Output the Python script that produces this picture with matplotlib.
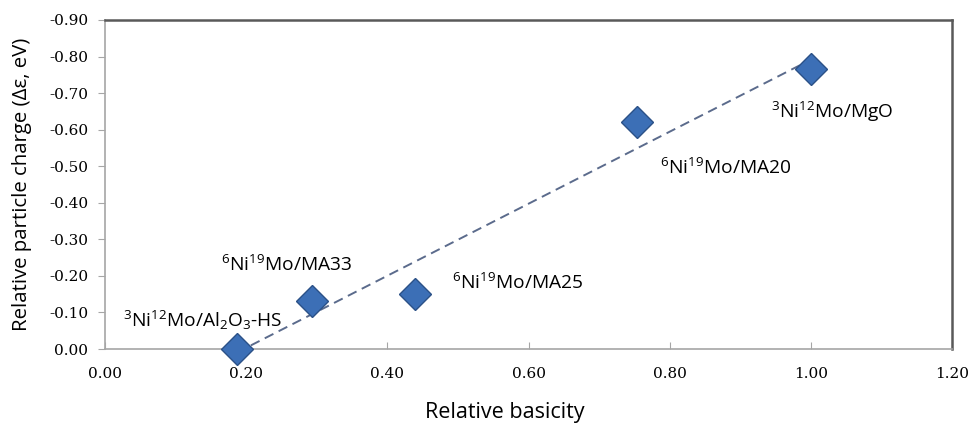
import numpy as np
import matplotlib
matplotlib.use('Agg')
import matplotlib.pyplot as plt
from matplotlib.ticker import FormatStrFormatter, MultipleLocator

plt.rcParams['mathtext.fontset'] = 'custom'
plt.rcParams['mathtext.rm'] = 'Open Sans'
plt.rcParams['mathtext.it'] = 'Open Sans:italic'
plt.rcParams['axes.unicode_minus'] = False

# relative basicity vs relative particle charge (eV, negative up)
basicity = [0.187, 0.293, 0.439, 0.754, 1.00]
charge = [0.00, -0.13, -0.15, -0.62, -0.765]
names = [r'$^{3}$Ni$^{12}$Mo/Al$_{2}$O$_{3}$-HS',
         r'$^{6}$Ni$^{19}$Mo/MA33',
         r'$^{6}$Ni$^{19}$Mo/MA25',
         r'$^{6}$Ni$^{19}$Mo/MA20',
         r'$^{3}$Ni$^{12}$Mo/MgO']
# where each label sits (data coords, left edge / vertical centre)
label_pos = [(0.026, -0.079), (0.164, -0.23), (0.491, -0.18),
             (0.786, -0.495), (0.944, -0.648)]

fig = plt.figure(figsize=(9.69, 4.25), dpi=100)
ax = fig.add_axes([0.1084, 0.1788, 0.8741, 0.7742])

# linear trend line over the data range
k, b = np.polyfit(basicity, charge, 1)
xt = np.array([min(basicity), max(basicity)])
ax.plot(xt, k * xt + b, ls=(0, (5, 3)), color='#5b6b8c', lw=1.4, zorder=2)

ax.plot(basicity, charge, ls='none', marker='D', markersize=16.5,
        markerfacecolor='#3c6fb6', markeredgecolor='#2b5187',
        markeredgewidth=1.0, zorder=3, clip_on=False)

for (lx, ly), s in zip(label_pos, names):
    ax.text(lx, ly, s, fontsize=13.8, family='Open Sans', va='center',
            ha='left', color='black')

ax.set_xlim(0, 1.2)
ax.set_ylim(0, -0.9)
ax.xaxis.set_major_locator(MultipleLocator(0.2))
ax.yaxis.set_major_locator(MultipleLocator(0.1))
ax.xaxis.set_major_formatter(FormatStrFormatter('%.2f'))
ax.yaxis.set_major_formatter(FormatStrFormatter('%.2f'))

for side in ['top', 'right']:
    ax.spines[side].set_color('#595959')
    ax.spines[side].set_linewidth(1.8)
for side in ['left', 'bottom']:
    ax.spines[side].set_color('#a6a6a6')
    ax.spines[side].set_linewidth(1.2)

ax.tick_params(axis='x', direction='in', length=5, color='#a6a6a6',
               pad=13, labelsize=11)
ax.tick_params(axis='y', direction='out', length=5, color='#a6a6a6',
               pad=7, labelsize=11)
for lab in ax.get_xticklabels() + ax.get_yticklabels():
    lab.set_family('DejaVu Serif')

ax.set_xlabel('Relative basicity', family='Open Sans', fontsize=15.5)
ax.xaxis.set_label_coords(0.472, -0.16)
ax.set_ylabel('Relative particle charge (Δε, eV)', family='Open Sans',
              fontsize=14.7)
ax.yaxis.set_label_coords(-0.086, 0.5)

fig.savefig('out.png', dpi=100)
